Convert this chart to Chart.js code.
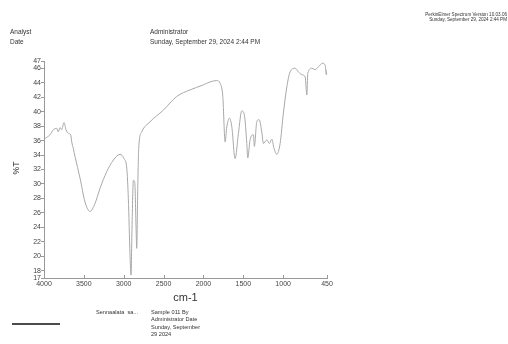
<!DOCTYPE html>
<html>
<head>
<meta charset="utf-8">
<script src="https://cdn.jsdelivr.net/npm/chart.js@4/dist/chart.umd.min.js"></script>
<style>
  html, body { margin: 0; padding: 0; background: #fff; }
  #wrap { width: 508px; height: 344px; position: relative; }
</style>
</head>
<body>
<div id="wrap"><canvas id="spectrum" width="508" height="344"></canvas></div>
<script>
// wavenumbers (cm-1) and transmittance (%T)
const wavenumbers = [4000,3987,3925,3883,3841,3821,3799,3778,3749,3724,3695,3665,3652,3632,3611,3548,3485,3423,3360,3297,3213,3130,3046,2996,2962,2942,2921,2908,2896,2879,2862,2845,2837,2824,2812,2774,2670,2503,2335,2168,2001,1917,1833,1791,1757,1728,1707,1674,1644,1603,1561,1519,1486,1456,1444,1415,1373,1361,1331,1302,1268,1248,1205,1172,1142,1114,1080,1038,997,954,913,850,808,766,724,703,691,640,599,558,502,473,458,450];
const transmittance = [36.2,36.3,36.8,37.5,37.7,37.2,37.8,37.5,38.5,37.5,37.0,36.8,35.8,34.9,33.8,30.8,27.5,26.2,27.3,29.4,31.7,33.3,34.1,33.5,32.2,28.0,20.2,17.4,23.9,30.5,30.3,23.9,21.1,29.4,34.9,37.2,38.6,40.2,42.1,43.0,43.7,44.1,44.3,43.9,42.1,35.8,37.9,39.1,37.9,33.5,37.0,40.1,39.5,35.6,33.6,36.1,36.8,35.2,38.6,38.9,37.2,35.6,36.1,35.6,36.2,34.9,34.1,35.6,39.8,43.4,45.5,46.0,45.5,45.1,44.8,42.3,45.3,46.0,45.8,46.2,46.7,46.4,45.1,45.8];

const xTicks = [4000, 3500, 3000, 2500, 2000, 1500, 1000, 450];
const yTicks = [17, 18, 20, 22, 24, 26, 28, 30, 32, 34, 36, 38, 40, 42, 44, 46, 47];

const headerLeft = ["Analyst", "Date"];
const headerValues = ["Administrator", "Sunday, September 29, 2024 2:44 PM"];
const headerRight = ["PerkinElmer Spectrum Version 10.03.06", "Sunday, September 29, 2024 2:44 PM"];
const legendName = "Sennaalata  sa...";
const legendInfo = ["Sample 011 By", "Administrator Date", "Sunday, September", "29 2024"];

const FONT = "Liberation Sans, Arial, sans-serif";

// page texts, axis titles, small x tick marks and the legend sample
const pageText = {
  id: "pageText",
  afterDraw(chart) {
    const ctx = chart.ctx;
    const area = chart.chartArea;
    const xs = chart.scales.x;
    ctx.save();
    ctx.fillStyle = "#333";
    ctx.textBaseline = "middle";

    ctx.font = "6.5px " + FONT;
    ctx.textAlign = "left";
    headerLeft.forEach((t, i) => ctx.fillText(t, 10, 32 + i * 10));
    headerValues.forEach((t, i) => ctx.fillText(t, 150, 32 + i * 10));

    ctx.font = "4.6px " + FONT;
    ctx.textAlign = "right";
    headerRight.forEach((t, i) => ctx.fillText(t, 507, 15 + i * 5));

    // x tick marks point up into the plot
    ctx.strokeStyle = "#999";
    ctx.lineWidth = 1;
    xTicks.forEach(v => {
      const px = Math.round(xs.getPixelForValue(v)) + 0.5;
      ctx.beginPath();
      ctx.moveTo(px, area.bottom);
      ctx.lineTo(px, area.bottom - 3);
      ctx.stroke();
    });

    ctx.font = "11px " + FONT;
    ctx.textAlign = "center";
    ctx.fillText("cm-1", (area.left + area.right) / 2, 298);

    ctx.save();
    ctx.translate(17, 168);
    ctx.rotate(-Math.PI / 2);
    ctx.font = "8.5px " + FONT;
    ctx.fillText("%T", 0, 0);
    ctx.restore();

    ctx.strokeStyle = "#111";
    ctx.lineWidth = 1.5;
    ctx.beginPath();
    ctx.moveTo(12, 324);
    ctx.lineTo(60, 324);
    ctx.stroke();

    ctx.font = "5.6px " + FONT;
    ctx.textAlign = "left";
    ctx.fillText(legendName, 96, 312);
    legendInfo.forEach((t, i) => ctx.fillText(t, 151, 312 + i * 7.5));
    ctx.restore();
  }
};

new Chart(document.getElementById("spectrum"), {
  type: "line",
  data: {
    datasets: [{
      data: wavenumbers.map((w, i) => ({ x: w, y: transmittance[i] })),
      borderColor: "#a8a8a8",
      borderWidth: 1,
      pointRadius: 0,
      fill: false,
      cubicInterpolationMode: "monotone"
    }]
  },
  options: {
    responsive: false,
    animation: false,
    events: [],
    layout: { padding: { left: 0, right: 181, top: 61, bottom: 46 } },
    plugins: { legend: { display: false }, tooltip: { enabled: false } },
    scales: {
      x: {
        type: "linear",
        reverse: true,
        min: 450,
        max: 4000,
        afterBuildTicks: s => { s.ticks = xTicks.map(v => ({ value: v })); },
        afterFit: s => { s.height = 20; },
        grid: { display: true, drawOnChartArea: false, drawTicks: false, color: "#999" },
        border: { color: "#999", width: 1 },
        ticks: {
          color: "#444", font: { size: 7, family: FONT }, padding: 2, maxRotation: 0, autoSkip: false,
          callback: v => String(v)
        }
      },
      y: {
        min: 17,
        max: 47,
        afterBuildTicks: s => { s.ticks = yTicks.map(v => ({ value: v })); },
        afterFit: s => { s.width = 44; },
        grid: { drawOnChartArea: false, drawTicks: true, tickLength: 3, color: "#999" },
        border: { color: "#999", width: 1 },
        ticks: { color: "#444", font: { size: 7, family: FONT }, padding: 0, autoSkip: false, callback: v => String(v) }
      }
    }
  },
  plugins: [pageText]
});
</script>
</body>
</html>
